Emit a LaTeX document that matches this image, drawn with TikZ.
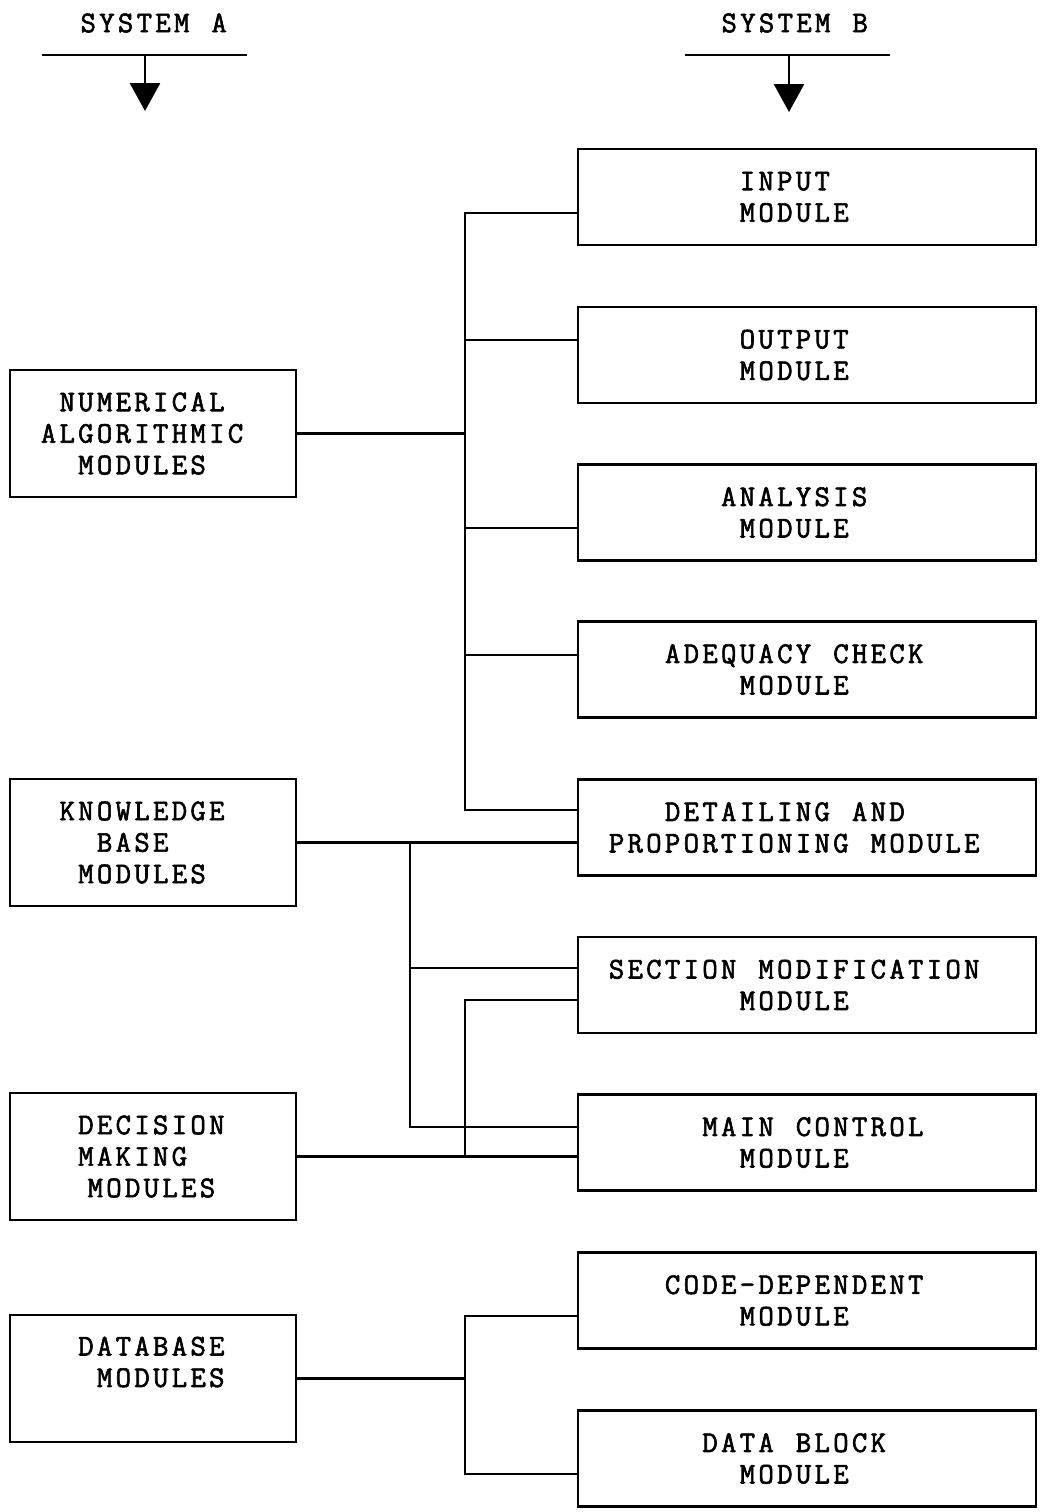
\documentclass[tikz,border=0pt]{standalone}
\usepackage{fontspec}
\usetikzlibrary{arrows.meta}
\newfontfamily\twf[FakeBold=2]{Latin Modern Mono}
\newlength\tcw \setlength\tcw{18.7pt}
\def\twline#1{\twloop#1\relax}
\def\twloop#1{\ifx\relax#1\else\makebox[\tcw]{#1}\expandafter\twloop\fi}
\newcommand\twl[2]{\hspace*{#1\tcw}\twline{#2}}
\begin{document}
\begin{tikzpicture}[x=1pt,y=-1pt,
  ln/.style={line width=2.8pt},
  lbox/.style={draw,line width=2.8pt,inner sep=0pt,minimum width=286pt,minimum height=127pt},
  rbox/.style={draw,line width=2.8pt,inner sep=0pt,minimum width=458pt,minimum height=96pt},
  tx/.style={inner sep=0pt,anchor=west,align=left,font=\twf\fontsize{30}{31.5}\selectfont},
  tip/.style={-{Triangle[width=30pt,length=28pt]}}]
\useasboundingbox (0,0) rectangle (1041,1512);
% headers
\node[tx] (sysA) at (78.7,23) {\twline{SYSTEM~A}};
\node[tx] (sysB) at (719.7,23) {\twline{SYSTEM~B}};
\coordinate (la1) at (42,55); \coordinate (la2) at (247,55);
\coordinate (lb1) at (685,55); \coordinate (lb2) at (890,55);
\coordinate (aa) at (145,55); \coordinate (aae) at (145,111);
\coordinate (ab) at (789,55); \coordinate (abe) at (789,112);
\draw[ln] (la1) -- (la2);
\draw[ln] (lb1) -- (lb2);
\draw[ln,tip] (aa) -- (aae);
\draw[ln,tip] (ab) -- (abe);
% left boxes
\node[lbox] (num) at (153,433.5) {};
\node[lbox] (kb) at (153,842.5) {};
\node[lbox] (dm) at (153,1156.5) {};
\node[lbox] (db) at (153,1378.5) {};
\node[tx] (numT) at (39,433.5) {\twl{1}{NUMERICAL}\\\twl{0}{ALGORITHMIC}\\\twl{2}{MODULES}};
\node[tx] (kbT) at (39,842.5) {\twl{1}{KNOWLEDGE}\\\twl{3}{BASE}\\\twl{2}{MODULES}};
\node[tx] (dmT) at (39,1156.5) {\twl{2}{DECISION}\\\twl{2}{MAKING}\\\twl{2.5}{MODULES}};
\node[tx] (dbT) at (39,1362) {\twl{2}{DATABASE}\\\twl{3}{MODULES}};
% right boxes
\node[rbox] (inp) at (807,197) {};
\node[rbox] (out) at (807,355) {};
\node[rbox] (ana) at (807,512.5) {};
\node[rbox] (adq) at (807,669.5) {};
\node[rbox] (det) at (807,827.5) {};
\node[rbox] (sec) at (807,985) {};
\node[rbox] (mc) at (807,1142.5) {};
\node[rbox] (cd) at (807,1300.5) {};
\node[rbox] (dbk) at (807,1458.5) {};
\node[tx] (inpT) at (607,197) {\twl{7}{INPUT}\\\twl{7}{MODULE}};
\node[tx] (outT) at (607,355) {\twl{7}{OUTPUT}\\\twl{7}{MODULE}};
\node[tx] (anaT) at (607,512.5) {\twl{6}{ANALYSIS}\\\twl{7}{MODULE}};
\node[tx] (adqT) at (607,669.5) {\twl{3}{ADEQUACY~CHECK}\\\twl{7}{MODULE}};
\node[tx] (detT) at (607,827.5) {\twl{3}{DETAILING~AND}\\\twl{0}{PROPORTIONING~MODULE}};
\node[tx] (secT) at (607,985) {\twl{0}{SECTION~MODIFICATION}\\\twl{7}{MODULE}};
\node[tx] (mcT) at (607,1142.5) {\twl{5}{MAIN~CONTROL}\\\twl{7}{MODULE}};
\node[tx] (cdT) at (607,1300.5) {\twl{3}{CODE-DEPENDENT}\\\twl{7}{MODULE}};
\node[tx] (dbkT) at (607,1458.5) {\twl{5}{DATA~BLOCK}\\\twl{7}{MODULE}};
% junctions
\coordinate (a1) at (465,213); \coordinate (a2) at (465,340);
\coordinate (a3) at (465,528); \coordinate (a4) at (465,655);
\coordinate (a6) at (465,810);
\coordinate (k1) at (410,842.5); \coordinate (k2) at (410,968); \coordinate (k3) at (410,1127);
\coordinate (d1) at (465,1000);
\coordinate (b1) at (465,1316); \coordinate (b2) at (465,1474);
% connectors
\draw[ln] (a1 -| inp.west) -- (a1) -- (a6) -- (a6 -| det.west);
\draw[ln] (a2) -- (a2 -| out.west);
\draw[ln] (num.east) -- (num.east -| a1);
\draw[ln] (a3) -- (a3 -| ana.west);
\draw[ln] (a4) -- (a4 -| adq.west);
\draw[ln] (kb.east) -- (kb.east -| det.west);
\draw[ln] (k1) -- (k3) -- (k3 -| mc.west);
\draw[ln] (k2) -- (k2 -| sec.west);
\draw[ln] (dm.east) -- (dm.east -| mc.west);
\draw[ln] (d1 -| sec.west) -- (d1) -- (d1 |- dm.east);
\draw[ln] (db.east) -- (db.east -| b1);
\draw[ln] (b1 -| cd.west) -- (b1) -- (b2) -- (b2 -| dbk.west);
\end{tikzpicture}
\end{document}
